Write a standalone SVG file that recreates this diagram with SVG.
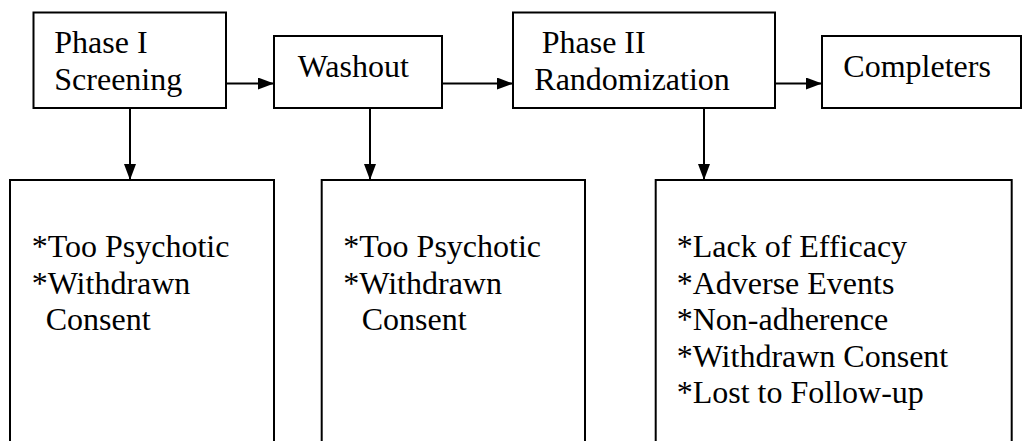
<svg xmlns="http://www.w3.org/2000/svg" width="1029" height="441" viewBox="0 0 1029 441">
<style>
.box{fill:#fff;stroke:#000;stroke-width:2}
.c{stroke:#000;stroke-width:2;fill:none}
.t{font-family:"Liberation Serif","Times New Roman",serif;font-size:32px;fill:#000}
</style>
<defs>
<marker id="ah" viewBox="0 0 16 12" refX="16" refY="6" markerWidth="16" markerHeight="12" markerUnits="userSpaceOnUse" orient="auto">
<path d="M0,0 L16,6 L0,12 Z" fill="#000"/>
</marker>
</defs>
<rect width="1029" height="441" fill="#fff"/>
<g id="connectors">
<line class="c" x1="226" y1="83.5" x2="274" y2="83.5" marker-end="url(#ah)"/>
<line class="c" x1="442" y1="83.5" x2="513" y2="83.5" marker-end="url(#ah)"/>
<line class="c" x1="775" y1="83.5" x2="822" y2="83.5" marker-end="url(#ah)"/>
<line class="c" x1="130" y1="108" x2="130" y2="180" marker-end="url(#ah)"/>
<line class="c" x1="370" y1="108" x2="370" y2="180" marker-end="url(#ah)"/>
<line class="c" x1="704" y1="108" x2="704" y2="180" marker-end="url(#ah)"/>
</g>
<g id="phase1">
<rect class="box" x="33.5" y="12.5" width="192.5" height="95.5"/>
<text class="t" x="54.3" y="53.3">Phase I</text>
<text class="t" x="54.3" y="90">Screening</text>
</g>
<g id="washout">
<rect class="box" x="274" y="36" width="168" height="72"/>
<text class="t" x="297.7" y="77.3">Washout</text>
</g>
<g id="phase2">
<rect class="box" x="513" y="12.5" width="262" height="95.5"/>
<text class="t" x="541.7" y="53.3">Phase II</text>
<text class="t" x="534.3" y="90">Randomization</text>
</g>
<g id="completers">
<rect class="box" x="822" y="36" width="199" height="72"/>
<text class="t" x="843.3" y="77.3">Completers</text>
</g>
<g id="dropout1">
<path class="c" d="M10,442 V180 H274 V442"/>
<text class="t" x="31.7" y="257.3">*Too Psychotic</text>
<text class="t" x="31.7" y="293.5">*Withdrawn</text>
<text class="t" x="45.7" y="330">Consent</text>
</g>
<g id="dropout2">
<path class="c" d="M321.7,442 V180 H585 V442"/>
<text class="t" x="343.3" y="257.3">*Too Psychotic</text>
<text class="t" x="343.3" y="293.5">*Withdrawn</text>
<text class="t" x="361.7" y="330">Consent</text>
</g>
<g id="dropout3">
<path class="c" d="M655.7,442 V180 H1011.7 V442"/>
<text class="t" x="676.7" y="257.3">*Lack of Efficacy</text>
<text class="t" x="676.7" y="293.5">*Adverse Events</text>
<text class="t" x="676.7" y="330">*Non-adherence</text>
<text class="t" x="676.7" y="366.7">*Withdrawn Consent</text>
<text class="t" x="676.7" y="403.3">*Lost to Follow-up</text>
</g>
</svg>
